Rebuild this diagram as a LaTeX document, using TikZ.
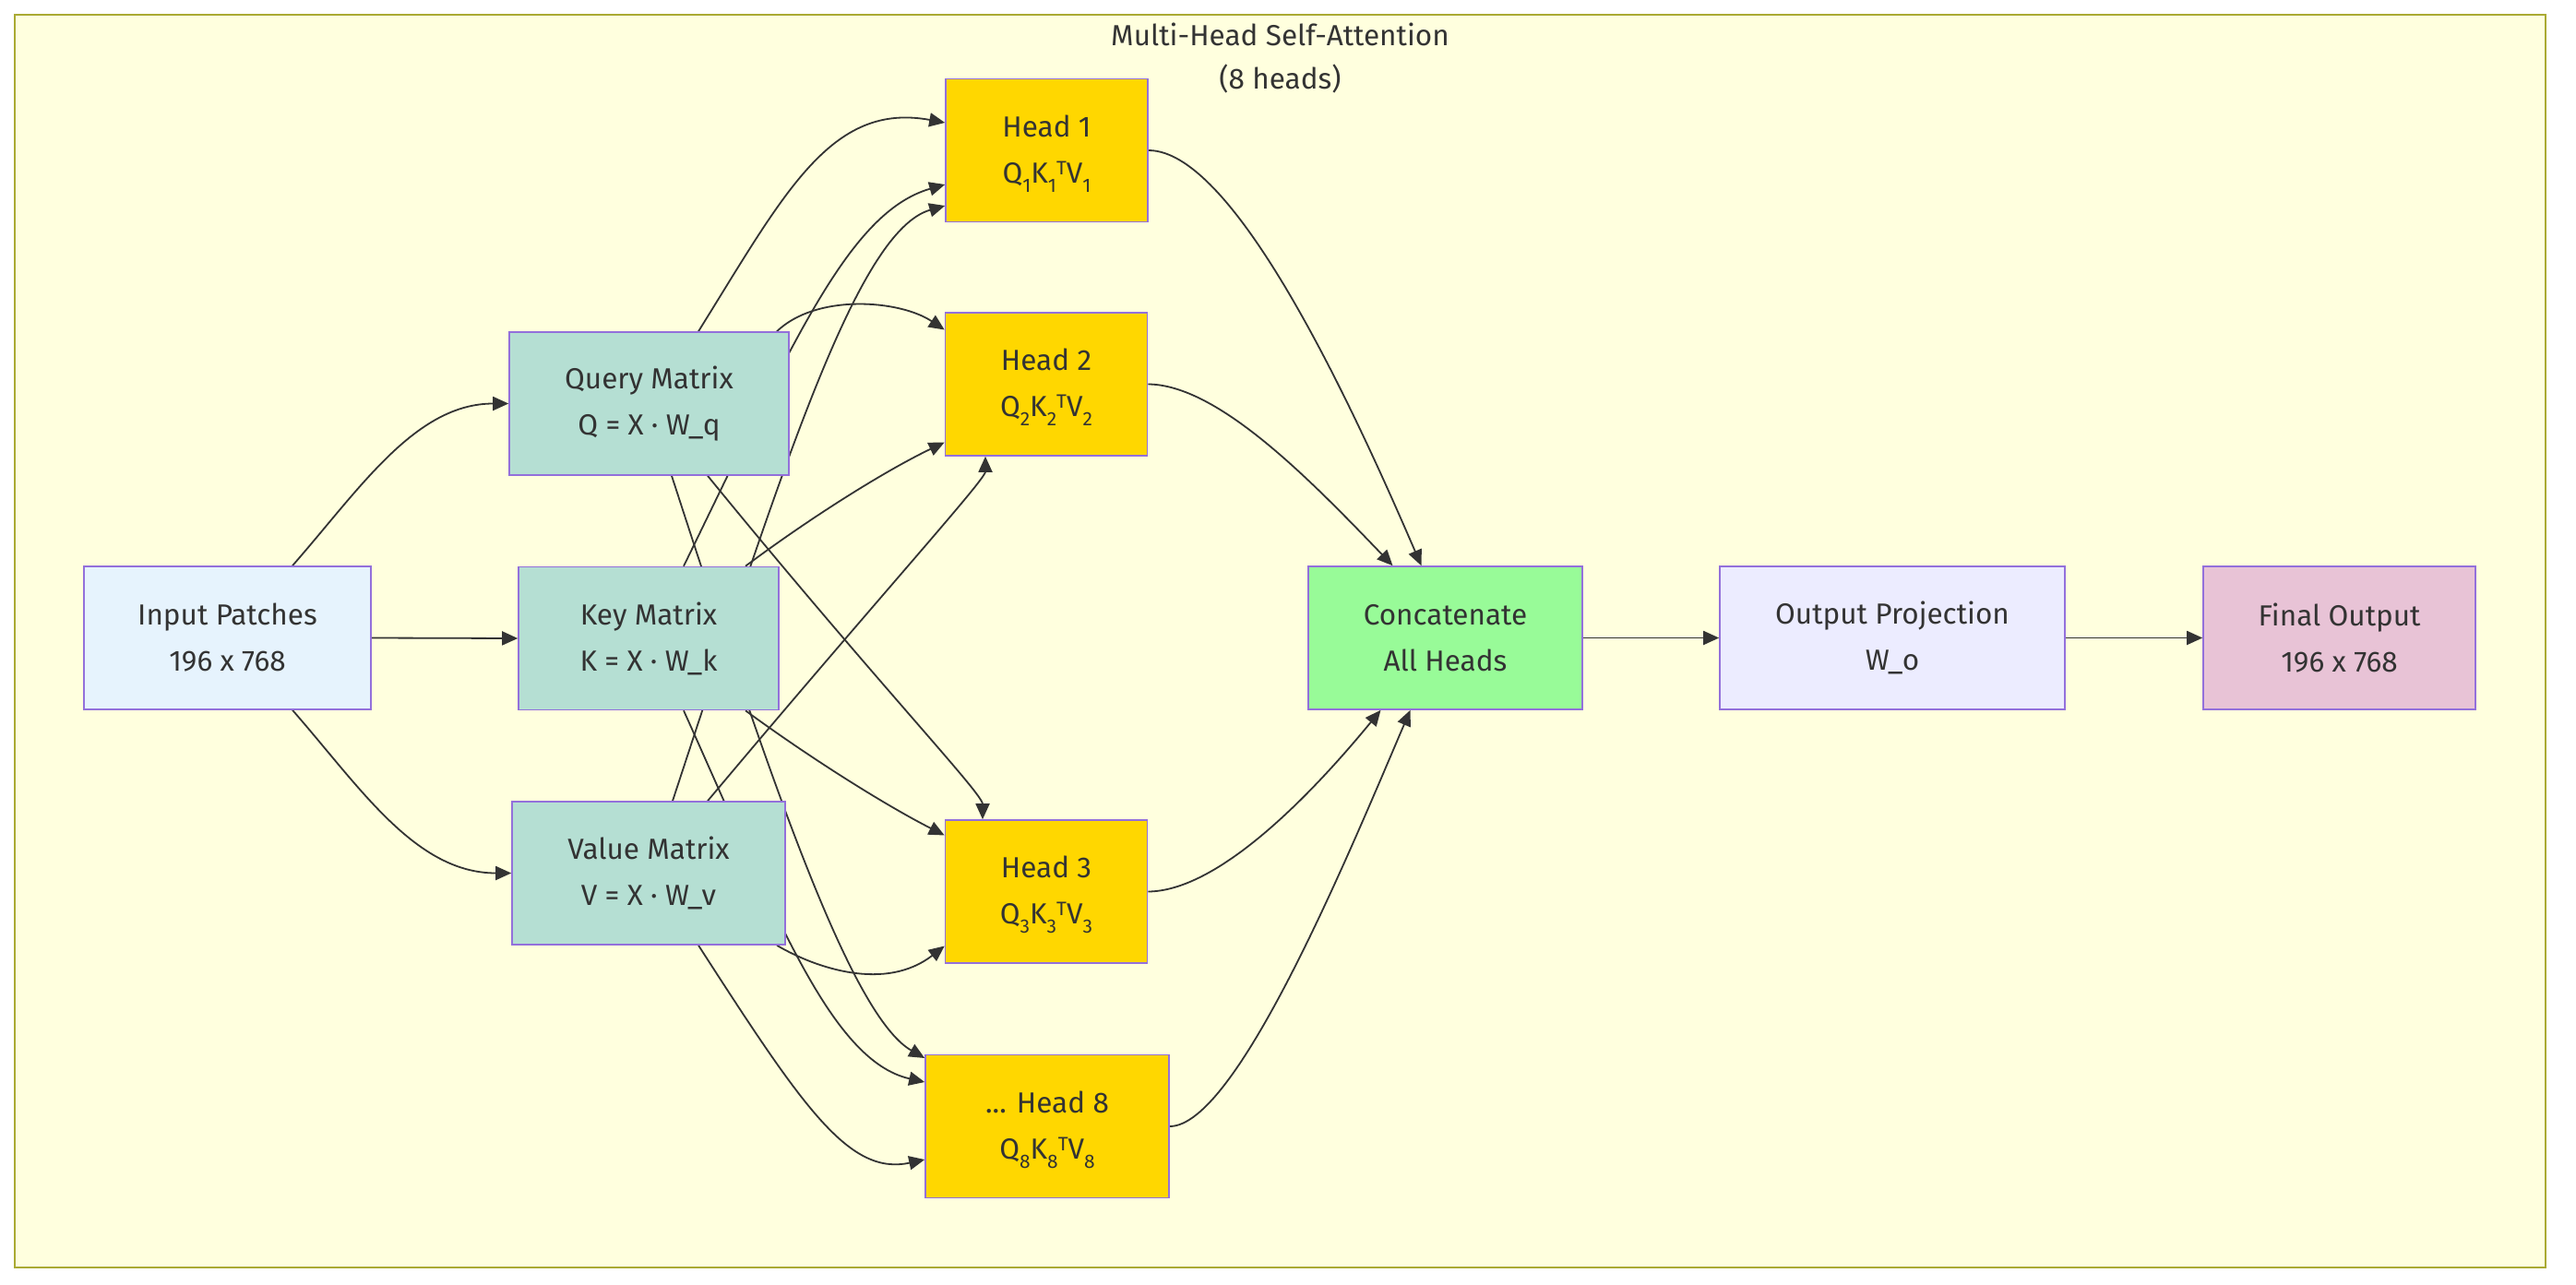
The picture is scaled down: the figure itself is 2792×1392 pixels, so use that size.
\documentclass[tikz,border=0pt]{standalone}
\usepackage{fontspec}
\setmainfont{Fira Sans}
\usetikzlibrary{arrows.meta,calc}
\definecolor{clfill}{HTML}{FFFFDE}
\definecolor{clborder}{HTML}{AAAA33}
\definecolor{nborder}{HTML}{9370DB}
\definecolor{txt}{HTML}{333333}
\definecolor{infill}{HTML}{E6F3FD}
\definecolor{qkvfill}{HTML}{B5DFD3}
\definecolor{headfill}{HTML}{FFD700}
\definecolor{catfill}{HTML}{98FB98}
\definecolor{outfill}{HTML}{ECECFF}
\definecolor{finfill}{HTML}{E8C3D6}
\newcommand\lowsub[1]{\raisebox{-10pt}[0pt][0pt]{\fontsize{21}{21}\selectfont #1}}
\newcommand\highsup[1]{\raisebox{9pt}[0pt][0pt]{\fontsize{21}{21}\selectfont #1}}
\pgfdeclarelayer{bg}
\pgfdeclarelayer{edges}
\pgfsetlayers{bg,edges,main}
\begin{document}
\begin{tikzpicture}[x=1pt,y=-1pt,
  box/.style={draw=nborder, line width=1.6pt, minimum height=155pt, inner sep=0pt,
    align=center, text=txt, font=\fontsize{31.5}{50}\selectfont},
  inbox/.style={box, fill=infill, minimum width=311pt},
  qkv/.style={box, fill=qkvfill},
  headbox/.style={box, fill=headfill, minimum width=219pt},
  conn/.style={draw=txt, line width=1.8pt, -{Triangle[length=17pt,width=15pt]}},
  ttl/.style={align=center, text=txt, font=\fontsize{31.5}{47}\selectfont}
]
\useasboundingbox (0,0) rectangle (2792,1392);
\begin{pgfonlayer}{bg}
\fill[white] (0,0) rectangle (2792,1392);
\draw[fill=clfill, draw=clborder, line width=2pt] (16,16) rectangle (2759,1374);
\end{pgfonlayer}
\node[ttl] (title) at (1387.5,63) {Multi-Head Self-Attention\\(8 heads)};

\node[inbox] (inp) at (246.5,691.5) {Input Patches\\196 x 768};
\node[qkv, minimum width=303pt] (q) at (703.5,437.5) {Query Matrix\\Q = X · W\_q};
\node[qkv, minimum width=282pt] (k) at (703,692) {Key Matrix\\K = X · W\_k};
\node[qkv, minimum width=296pt] (v) at (703,946.5) {Value Matrix\\V = X · W\_v};
\node[headbox] (h1) at (1134.5,163) {Head 1\\Q\lowsub{1}K\lowsub{1}\highsup{T}V\lowsub{1}};
\node[headbox] (h2) at (1134,416.5) {Head 2\\Q\lowsub{2}K\lowsub{2}\highsup{T}V\lowsub{2}};
\node[headbox] (h3) at (1134,966.5) {Head 3\\Q\lowsub{3}K\lowsub{3}\highsup{T}V\lowsub{3}};
\node[headbox, minimum width=264pt] (h8) at (1135,1221) {... Head 8\\Q\lowsub{8}K\lowsub{8}\highsup{T}V\lowsub{8}};
\node[box, fill=catfill, minimum width=297pt] (cat) at (1566.5,691.5) {Concatenate\\All Heads};
\node[box, fill=outfill, minimum width=374pt] (out) at (2051,691.5) {Output Projection\\W\_o};
\node[box, fill=finfill, minimum width=295pt] (fin) at (2535.5,691.5) {Final Output\\196 x 768};

\begin{pgfonlayer}{edges}
\draw[conn] ($(inp.north)+(70.5,0)$) .. controls (390,530) and (450,437.5) .. (q.west);
\draw[conn] (inp.east) -- (k.west);
\draw[conn] ($(inp.south)+(70.5,0)$) .. controls (390,853) and (450,946.5) .. (v.west);

\draw[conn] ($(q.north)+(53.5,0)$) .. controls (850,210) and (900,110) .. ($(h1.west)+(0,-30)$);
\draw[conn] ($(q.north)+(138.5,0)$) .. controls (885,318) and (975,325) .. ($(h2.west)+(0,-59)$);
\draw[conn] ($(q.south)+(63.5,0)$) .. controls (950,740) and (1065,860) .. ($(h3.north)+(-69,0)$);
\draw[conn] ($(q.south)+(24.5,0)$) .. controls (830,830) and (920,1100) .. ($(h8.west)+(0,-74)$);

\draw[conn] ($(k.north)+(38,0)$) .. controls (860,370) and (920,230) .. ($(h1.west)+(0,37)$);
\draw[conn] ($(k.north)+(105,0)$) .. controls (880,560) and (960,510) .. ($(h2.west)+(0,63)$);
\draw[conn] ($(k.south)+(105,0)$) .. controls (880,823) and (960,873) .. ($(h3.west)+(0,-61)$);
\draw[conn] ($(k.south)+(38,0)$) .. controls (840,990) and (900,1150) .. ($(h8.west)+(0,-48)$);

\draw[conn] ($(v.north)+(26,0)$) .. controls (850,500) and (930,250) .. ($(h1.west)+(0,60)$);
\draw[conn] ($(v.north)+(64,0)$) .. controls (950,650) and (1068,520) .. ($(h2.south)+(-66,0)$);
\draw[conn] ($(v.south)+(139,0)$) .. controls (885,1050) and (960,1075) .. ($(h3.west)+(0,59)$);
\draw[conn] ($(v.south)+(54,0)$) .. controls (870,1200) and (920,1275) .. ($(h8.west)+(0,36)$);

\draw[conn] (h1.east) .. controls (1340,163) and (1470,450) .. ($(cat.north)+(-26,0)$);
\draw[conn] (h2.east) .. controls (1320,417) and (1420,520) .. ($(cat.north)+(-57,0)$);
\draw[conn] (h3.east) .. controls (1320,966) and (1420,863) .. ($(cat.south)+(-70,0)$);
\draw[conn] (h8.east) .. controls (1340,1221) and (1460,930) .. ($(cat.south)+(-38,0)$);

\draw[conn] (cat.east) -- (out.west);
\draw[conn] (out.east) -- (fin.west);
\end{pgfonlayer}
\end{tikzpicture}
\end{document}
